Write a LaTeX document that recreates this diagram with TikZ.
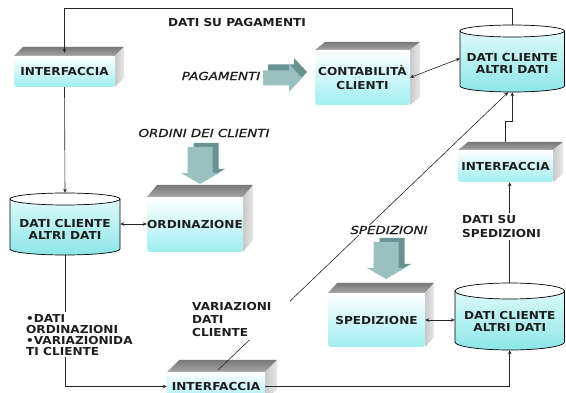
\documentclass[tikz,border=0pt]{standalone}
\usepackage{fontspec}
\setmainfont[FakeStretch=1.1]{DejaVu Sans}
\newfontfamily\itfnt[FakeStretch=1.22,FakeBold=1]{DejaVu Sans}
\usetikzlibrary{arrows.meta,calc}
\definecolor{cyanc}{RGB}{160,238,240}
\definecolor{cyand}{RGB}{140,230,232}
\definecolor{txt}{RGB}{30,30,30}
\definecolor{topA}{RGB}{120,120,120}
\definecolor{topB}{RGB}{165,165,165}
\definecolor{sideA}{RGB}{200,200,200}
\definecolor{sideB}{RGB}{232,232,232}
\definecolor{arrfront}{RGB}{155,192,192}
\definecolor{arrside}{RGB}{105,146,146}
\tikzset{
  ln/.style={line width=0.6pt, draw=black!85},
  arr/.style={ln, -{Stealth[length=4pt,width=3.5pt]}},
  darr/.style={ln, {Stealth[length=4pt,width=3.5pt]}-{Stealth[length=4pt,width=3.5pt]}},
  frontface/.style={rounded corners=3pt, top color=white, bottom color=cyanc, inner sep=0pt, align=center,
    font=\bfseries\fontsize{11}{14}\selectfont, text=txt},
  topface/.style={top color=topA, bottom color=topB},
  sideface/.style={left color=sideA, right color=sideB},
  cylbody/.style={top color=cyanc!25, bottom color=cyand},
  cyltext/.style={align=center, font=\bfseries\fontsize{11}{12}\selectfont, text=txt},
  lbl/.style={fill=white, inner sep=2pt, align=left, text=txt},
  boldtxt/.style={font=\bfseries\fontsize{11}{13}\selectfont, text=txt},
  itl/.style={font=\itfnt\itshape\fontsize{11}{13}\selectfont, text=txt}
}
\newcommand\mybox[8]{%
  \shade[topface] (#2,#3) -- ++(#6,#7) -- ({#4+#6},{#3+#7}) -- (#4,#3) -- cycle;
  \shade[sideface] (#4,#3) -- ({#4+#6},{#3+#7}) -- ({#4+#6},{#5+#7}) -- (#4,#5) -- cycle;
  \node[frontface, minimum width={(#4-#2)*1pt}, minimum height={(#5-#3)*1pt}] (#1) at ({(#2+#4)/2},{(#3+#5)/2}) {#8};
}
\newcommand\mycyl[7]{%
  \shade[cylbody] (#2,#4) -- (#2,#5) arc[start angle=180,end angle=0,x radius={(#3-#2)/2},y radius=#6]
     -- (#3,#4) arc[start angle=0,end angle=-180,x radius={(#3-#2)/2},y radius=#6] -- cycle;
  \draw[line width=0.7pt] (#2,#4) -- (#2,#5) arc[start angle=180,end angle=0,x radius={(#3-#2)/2},y radius=#6] -- (#3,#4);
  \draw[line width=0.7pt, fill=white] ({(#2+#3)/2},#4) ellipse[x radius={(#3-#2)/2},y radius=#6];
  \node[inner sep=0pt, minimum width={(#3-#2)*1pt}, minimum height={(#5-#4+2*#6)*1pt},
     label={[cyltext,yshift=-5pt]center:{#7}}] (#1) at ({(#2+#3)/2},{(#4+#5)/2}) {};
}
\newcommand\mydown[2]{%
  \fill[arrside] ({#1-6.5},{#2-4}) -- ({#1+18.5},{#2-4}) -- ({#1+18.5},{#2+22}) -- ({#1+25},{#2+22})
     -- ({#1+6},{#2+33}) -- ({#1-13},{#2+22}) -- ({#1-6.5},{#2+22}) -- cycle;
  \fill[arrfront] ({#1-12.5},#2) -- ({#1+12.5},#2) -- ({#1+12.5},{#2+26}) -- ({#1+19},{#2+26})
     -- (#1,{#2+37}) -- ({#1-19},{#2+26}) -- ({#1-12.5},{#2+26}) -- cycle;
}
\newcommand\myright[2]{%
  \fill[arrside] ({#1+5},{#2-13.5}) -- ({#1+31},{#2-13.5}) -- ({#1+31},{#2-20}) -- ({#1+44},{#2-6})
     -- ({#1+31},{#2+8}) -- ({#1+31},{#2+1.5}) -- ({#1+5},{#2+1.5}) -- cycle;
  \fill[arrfront] (#1,{#2-7.5}) -- ({#1+26},{#2-7.5}) -- ({#1+26},{#2-14}) -- ({#1+39},#2)
     -- ({#1+26},{#2+14}) -- ({#1+26},{#2+7.5}) -- (#1,{#2+7.5}) -- cycle;
}
\begin{document}
\begin{tikzpicture}[x=1pt,y=-1pt]
\clip (0,0) rectangle (566,393);
\fill[white] (0,0) rectangle (566,393);

% boxes
\mybox{ifa}{14}{56}{115}{87}{9}{-9}{INTERFACCIA}
\mybox{con}{315}{50}{410}{105}{10}{-8}{CONTABILITÀ\\CLIENTI}
\mybox{ord}{147}{197}{243}{252}{10}{-12}{ORDINAZIONE}
\mybox{ir}{458}{150}{553}{182}{10}{-8}{INTERFACCIA}
\mybox{spd}{328}{293}{425}{347}{9}{-10}{SPEDIZIONE}
\mybox{ib}{167}{372}{265}{401}{12}{-12}{INTERFACCIA}

% cylinders
\mycyl{lc}{10}{120}{199}{249}{6}{DATI CLIENTE\\ALTRI DATI}
\mycyl{trc}{460}{564.5}{31}{86}{6}{DATI CLIENTE\\ALTRI DATI}
\mycyl{brc}{455}{564.5}{291}{342}{8}{DATI CLIENTE\\ALTRI DATI}

% block arrows
\mydown{200}{147}
\mydown{386}{242}
\myright{263}{78}

% connectors
\coordinate (topy) at (0,8);
\draw[arr] (trc.north) |- (topy -| ifa.north) -- ($(ifa.north)+(0,-3)$);
\draw[arr] (ifa.south) -- (lc.north);
\draw[darr] (lc.east) -- (lc.east -| ord.west);
\draw[arr] (lc.south) |- (ib.west);
\draw[arr] (ib.east) -| (brc.south);
\draw[arr] (brc.north) -- (brc.north |- ir.south);
\draw[arr] ($(ir.north)+(0,-8)$) -- ++(0,-20) -| (trc.south);
\draw[darr] (con.east) -- (trc.west);
\draw[darr] (spd.east) -- (spd.east -| brc.west);
\coordinate (d1) at (218,370);
\draw[arr] (d1) -- ($(trc.south)+(-4,0)$);

% labels
\node[boldtxt] (dsp) at (237,22) {DATI SU PAGAMENTI};
\node[itl] (pag) at (221,76) {PAGAMENTI};
\node[itl] (odc) at (204,133) {ORDINI DEI CLIENTI};
\node[itl, fill=white, inner sep=1pt] (spz) at (389,230) {SPEDIZIONI};
\node[lbl, font=\bfseries\fontsize{11}{14}\selectfont, anchor=north west] (dss) at (460,213) {DATI SU\\SPEDIZIONI};
\node[lbl, font=\bfseries\fontsize{11}{13}\selectfont, anchor=north west, inner sep=3pt, text width=95pt] (var) at (189,299) {VARIAZIONI\\DATI\\CLIENTE};
\node[lbl, font=\bfseries\fontsize{11}{11}\selectfont, anchor=north west] (bl) at (24,312) {•DATI\\ORDINAZIONI\\•VARIAZIONIDA\\TI CLIENTE};
\end{tikzpicture}
\end{document}
